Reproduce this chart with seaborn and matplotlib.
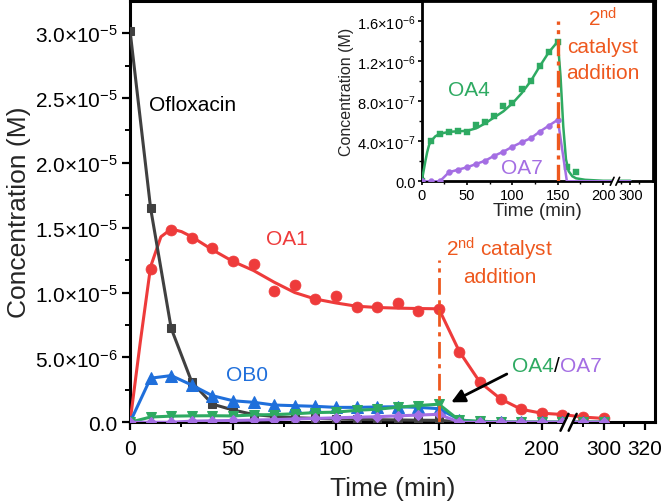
import numpy as np
import pandas as pd
import matplotlib.pyplot as plt
import seaborn as sns

plt.switch_backend('Agg')

# ---- data ----
# sampling times in min; the time axis is broken between ~213 and ~283 min
time = [0, 10, 20, 30, 40, 50, 60, 70, 80, 90, 100, 110, 120, 130, 140, 150,
        160, 170, 180, 190, 200, 210, 290, 300]

oflox = [3.02e-5, 1.65e-5, 7.24e-6, 3.1e-6, 1.4e-6, 9.5e-7, 6.0e-7, 4.5e-7,
         3.5e-7, 3.0e-7, 2.5e-7, 2.2e-7, 2.0e-7, 1.8e-7, 1.6e-7, 1.5e-7,
         5e-8, 2e-8, 1e-8, 0, 0, 0, 0, 0]
oa1 = [0, 1.18e-5, 1.48e-5, 1.42e-5, 1.34e-5, 1.24e-5, 1.22e-5, 1.01e-5,
       1.06e-5, 9.5e-6, 9.75e-6, 8.87e-6, 8.87e-6, 9.17e-6, 8.6e-6, 8.73e-6,
       5.44e-6, 3.08e-6, 1.8e-6, 1.0e-6, 7.0e-7, 6.0e-7, 4.0e-7, 3.0e-7]
ob0 = [0, 3.4e-6, 3.6e-6, 2.87e-6, 2.05e-6, 1.66e-6, 1.54e-6, 1.33e-6,
       1.28e-6, 1.23e-6, 1.15e-6, 1.15e-6, 1.18e-6, 1.2e-6, 1.15e-6, 1.05e-6,
       2e-7, 0, 0, 0, 0, 0, 0, 0]
oa4 = [0, 4.06e-7, 4.73e-7, 4.96e-7, 5.06e-7, 4.9e-7, 5.63e-7, 5.96e-7,
       6.56e-7, 7.5e-7, 7.8e-7, 9.23e-7, 1.006e-6, 1.156e-6, 1.29e-6, 1.396e-6,
       1.4e-7, 9e-8, 1e-8, 1e-8, 1e-8, 1e-8, 1e-8, 1e-8]
oa7 = [0, 0, 0, 9e-8, 1.16e-7, 1.4e-7, 1.73e-7, 2.06e-7,
       2.56e-7, 2.96e-7, 3.46e-7, 3.9e-7, 4.3e-7, 4.96e-7, 5.56e-7, 6.16e-7,
       0, 0, 0, 0, 0, 0, 0, 0]

# fitted curves
oa1_fit_t = [0, 5, 10, 15, 20, 25, 30, 40, 50, 60, 70, 80, 90, 100, 110, 120,
             130, 140, 150, 160, 170, 180, 190, 200, 210, 290, 300]
oa1_fit = [0, 6.2e-6, 1.2e-5, 1.43e-5, 1.49e-5, 1.47e-5, 1.43e-5, 1.33e-5,
           1.24e-5, 1.17e-5, 1.08e-5, 1.0e-5, 9.5e-6, 9.2e-6, 8.95e-6, 8.85e-6,
           8.8e-6, 8.77e-6, 8.75e-6, 5.44e-6, 3.08e-6, 1.8e-6, 1.0e-6, 7e-7,
           6e-7, 4e-7, 3e-7]
oa4_fit_t = [0, 2, 4, 6, 8, 10, 15, 20, 30, 40, 50, 60, 70, 80, 90, 100, 110,
             120, 130, 140, 150, 153, 156, 159, 162, 166, 170, 180, 200, 300]
oa4_fit = [0, 1.0e-7, 2.0e-7, 2.9e-7, 3.6e-7, 4.0e-7, 4.5e-7, 4.75e-7, 4.95e-7,
           5.0e-7, 5.05e-7, 5.3e-7, 5.8e-7, 6.4e-7, 7.0e-7, 7.8e-7, 8.8e-7,
           1.0e-6, 1.15e-6, 1.29e-6, 1.4e-6, 1.05e-6, 5.5e-7, 2.2e-7, 1.0e-7,
           5e-8, 3e-8, 1.5e-8, 5e-9, 5e-9]

catalyst_t = 150

x_ticks = [0, 50, 100, 150, 200, 300, 320]
x_minor = [25, 75, 125, 175, 290, 310]
y_ticks = [0, 5e-6, 1e-5, 1.5e-5, 2e-5, 2.5e-5, 3e-5]
y_labels = ['0.0', r'5.0×10$^{\mathregular{-6}}$', r'1.0×10$^{\mathregular{-5}}$',
            r'1.5×10$^{\mathregular{-5}}$', r'2.0×10$^{\mathregular{-5}}$',
            r'2.5×10$^{\mathregular{-5}}$', r'3.0×10$^{\mathregular{-5}}$']
in_x_ticks = [0, 50, 100, 150, 200, 300]
in_y_ticks = [0, 4e-7, 8e-7, 1.2e-6, 1.6e-6]
in_y_labels = ['0.0', r'4.0×10$^{\mathregular{-7}}$', r'8.0×10$^{\mathregular{-7}}$',
               r'1.2×10$^{\mathregular{-6}}$', r'1.6×10$^{\mathregular{-6}}$']

GRAY = '#404040'
RED = '#EE3B3B'
BLUE = '#1F6FDB'
GREEN = '#2EAA62'
PURPLE = '#A46EE3'
ORANGE = '#EE581E'

# ---- style ----
sns.set_theme(style='ticks', rc={'axes.edgecolor': 'black', 'xtick.color': 'black',
                                 'ytick.color': 'black', 'axes.linewidth': 2})
plt.rcParams['font.family'] = ['Liberation Sans', 'DejaVu Sans']
plt.rcParams['mathtext.fontset'] = 'custom'
plt.rcParams['mathtext.rm'] = 'Liberation Sans'
plt.rcParams['mathtext.it'] = 'Liberation Sans:italic'
plt.rcParams['mathtext.bf'] = 'Liberation Sans:bold'

# broken time axis: squeeze out 213..283 min
GAP_LO, GAP_HI = 213, 283
XMAX = 325


def fwd(x):
    x = np.asarray(x, dtype=float)
    return np.where(x <= GAP_LO, x, np.where(x >= GAP_HI, x - (GAP_HI - GAP_LO), GAP_LO))


def inv(x):
    x = np.asarray(x, dtype=float)
    return np.where(x <= GAP_LO, x, x + (GAP_HI - GAP_LO))


def draw_break(a, half_w, half_h, sep, lw):
    # '//' mark on the bottom spine
    f = float(fwd(GAP_LO) / fwd(XMAX))
    a.plot([f - sep, f + sep], [0, 0], transform=a.transAxes, color='white',
           lw=4, clip_on=False, zorder=20, solid_capstyle='butt')
    for c in (f - sep, f + sep):
        a.plot([c - half_w, c + half_w], [-half_h, half_h], transform=a.transAxes,
               color='black', lw=lw, clip_on=False, zorder=21)


df = pd.DataFrame({'time': time, 'Ofloxacin': oflox, 'OA1': oa1, 'OB0': ob0,
                   'OA4': oa4, 'OA7': oa7})

fig = plt.figure(figsize=(6.61, 5.02), dpi=100)
ax = fig.add_axes([0.1967, 0.1568, 0.7943, 0.8398])

sns.lineplot(x=oa1_fit_t, y=oa1_fit, ax=ax, color=RED, linewidth=2.2,
             errorbar=None, sort=False, zorder=3)
sns.scatterplot(data=df, x='time', y='OA1', ax=ax, color=RED, s=62,
                edgecolor=RED, linewidth=0.5, zorder=4)
sns.lineplot(data=df, x='time', y='Ofloxacin', ax=ax, color=GRAY, linewidth=2.2,
             marker='s', markersize=6, markeredgecolor=GRAY, errorbar=None, zorder=5)
sns.lineplot(data=df, x='time', y='OB0', ax=ax, color=BLUE, linewidth=2.2,
             marker='^', markersize=8, markeredgecolor=BLUE, errorbar=None, zorder=6)
sns.lineplot(data=df, x='time', y='OA4', ax=ax, color=GREEN, linewidth=2.2,
             marker='v', markersize=7, markeredgecolor=GREEN, errorbar=None, zorder=7)
sns.lineplot(data=df, x='time', y='OA7', ax=ax, color=PURPLE, linewidth=2.2,
             marker='D', markersize=5, markeredgecolor=PURPLE, errorbar=None, zorder=8)

ax.vlines(catalyst_t, 0, 1.25e-5, color=ORANGE, linewidth=2,
          linestyle=(0, (6, 2, 1.5, 2)), zorder=9)

ax.set_xscale('function', functions=(fwd, inv))
ax.set_xlim(0, XMAX)
ax.set_ylim(0, 3.25e-5)
ax.set_xticks(x_ticks, labels=[str(v) for v in x_ticks])
ax.set_xticks(x_minor, minor=True)
ax.set_yticks(y_ticks, labels=y_labels)
ax.set_yticks(np.arange(2.5e-6, 3.25e-5, 5e-6), minor=True)
ax.tick_params(which='major', direction='out', length=6, width=1.6, labelsize=15, pad=3)
ax.tick_params(axis='x', which='major', pad=6)
ax.tick_params(which='minor', direction='out', length=3.5, width=1.4)
ax.set_xlabel('Time (min)', fontsize=19, labelpad=13)
ax.set_ylabel('Concentration (M)', fontsize=19, labelpad=3)
for s in ax.spines.values():
    s.set_linewidth(2.2)
draw_break(ax, 0.0076, 0.02, 0.0078, 1.8)

ax.text(30.6, 2.45e-5, 'Ofloxacin', fontsize=15, color='black', ha='center', va='center')
ax.text(76, 1.42e-5, 'OA1', fontsize=15, color=RED, ha='center', va='center')
ax.text(57, 3.72e-6, 'OB0', fontsize=15, color=BLUE, ha='center', va='center')
ax.text(179.5, 1.285e-5, r'2$^{\mathregular{nd}}$ catalyst', fontsize=15, color=ORANGE,
        ha='center', va='baseline')
ax.text(179.5, 1.079e-5, 'addition', fontsize=15, color=ORANGE, ha='center', va='baseline')
ax.annotate('/', xy=(207.5, 4.36e-6), fontsize=15, color='black', ha='center', va='center')
ax.annotate('OA4', xy=(207.5, 4.36e-6), xytext=(-2.2, 0), textcoords='offset points',
            fontsize=15, color=GREEN, ha='right', va='center')
ax.annotate('OA7', xy=(207.5, 4.36e-6), xytext=(2.2, 0), textcoords='offset points',
            fontsize=15, color=PURPLE, ha='left', va='center')
ax.annotate('', xy=(156, 1.54e-6), xytext=(183, 3.72e-6),
            arrowprops=dict(arrowstyle='-|>', color='black', lw=2, mutation_scale=20,
                            shrinkA=0, shrinkB=0), zorder=12)

# ---- inset: OA4 / OA7 ----
axin = fig.add_axes([0.638, 0.6369, 0.35, 0.3582])
axin.set_facecolor('white')
in4 = df[df['time'] <= 170]
in7 = df[df['time'] <= 150]
sns.lineplot(x=oa4_fit_t, y=oa4_fit, ax=axin, color=GREEN, linewidth=1.8,
             errorbar=None, sort=False, zorder=3)
sns.scatterplot(data=in4, x='time', y='OA4', ax=axin, color=GREEN, marker='s', s=16,
                edgecolor=GREEN, linewidth=0.3, zorder=4)
sns.lineplot(data=df, x='time', y='OA7', ax=axin, color=PURPLE, linewidth=1.8,
             errorbar=None, zorder=5)
sns.scatterplot(data=in7, x='time', y='OA7', ax=axin, color=PURPLE, marker='o', s=18,
                edgecolor=PURPLE, linewidth=0.3, zorder=6)
axin.vlines(catalyst_t, 0, 1.6e-6, color=ORANGE, linewidth=2.4,
            linestyle=(0, (5, 1.6, 1.2, 1.6)), zorder=7)

axin.set_xscale('function', functions=(fwd, inv))
axin.set_xlim(0, XMAX)
axin.set_ylim(0, 1.8e-6)
axin.set_xticks(in_x_ticks, labels=[str(v) for v in in_x_ticks])
axin.set_xticks(x_minor, minor=True)
axin.set_yticks(in_y_ticks, labels=in_y_labels)
axin.set_yticks([2e-7, 6e-7, 1e-6, 1.4e-6], minor=True)
axin.tick_params(which='major', direction='out', length=3, width=1.2, labelsize=10.5, pad=1.5)
axin.tick_params(which='minor', direction='out', length=2, width=1.0)
axin.set_xlabel('Time (min)', fontsize=13.5, labelpad=0)
axin.set_ylabel('Concentration (M)', fontsize=11.5, labelpad=2)
for s in axin.spines.values():
    s.set_linewidth(2)
draw_break(axin, 0.008, 0.022, 0.012, 1.2)

axin.text(52, 9.2e-7, 'OA4', fontsize=15, color=GREEN, ha='center', va='center')
axin.text(110.6, 1.4e-7, 'OA7', fontsize=15, color=PURPLE, ha='center', va='center')
axin.text(199.3, 1.556e-6, r'2$^{\mathregular{nd}}$', fontsize=15, color=ORANGE,
          ha='center', va='baseline')
axin.text(199.3, 1.29e-6, 'catalyst', fontsize=15, color=ORANGE, ha='center', va='baseline')
axin.text(199.3, 1.03e-6, 'addition', fontsize=15, color=ORANGE, ha='center', va='baseline')

fig.savefig('out.png', dpi=100)
print("Generated out.png")
